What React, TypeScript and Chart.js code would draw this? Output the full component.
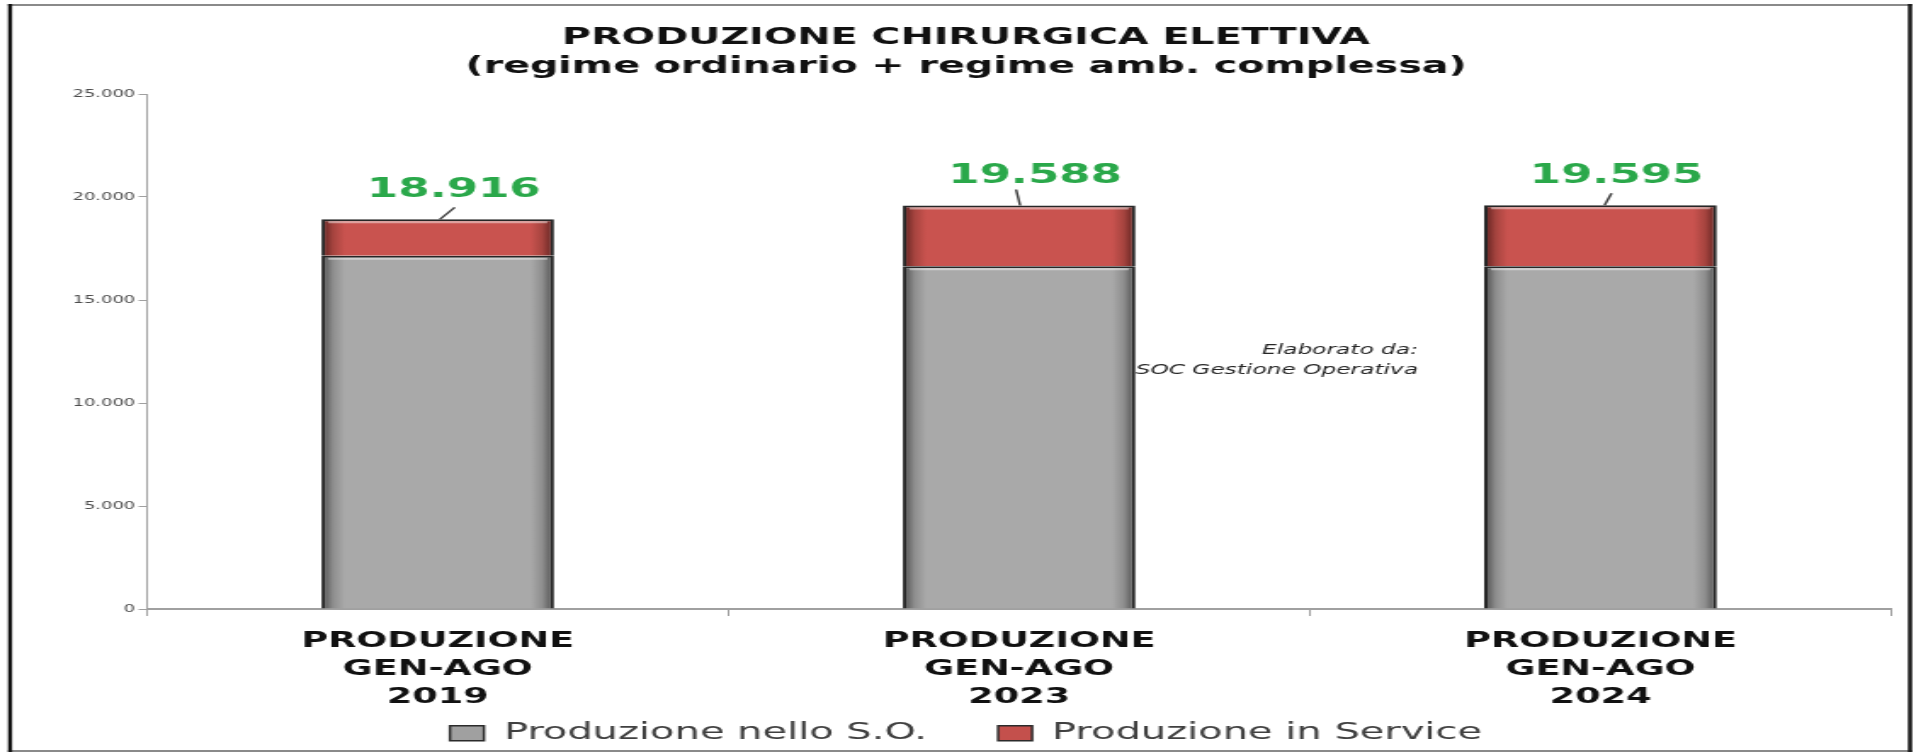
import React, { useEffect, useRef } from 'react';
import { Chart, registerables } from 'chart.js';

Chart.register(...registerables);

// ---------- data ----------
const CATEGORIES: string[][] = [
  ['PRODUZIONE', 'GEN-AGO', '2019'],
  ['PRODUZIONE', 'GEN-AGO', '2023'],
  ['PRODUZIONE', 'GEN-AGO', '2024'],
];
const SERIES_NAMES = ['Produzione nello S.O.', 'Produzione in Service'];
const PRODUZIONE_SO = [17150, 16640, 16640];
const PRODUZIONE_SERVICE = [1766, 2948, 2955];
const Y_MIN = 0;
const Y_MAX = 25000;
const Y_STEP = 5000;
const TITLE_LINES = ['PRODUZIONE CHIRURGICA ELETTIVA', '(regime ordinario + regime amb. complessa)'];
const NOTE_LINES = ['Elaborato da:', 'SOC Gestione Operativa'];

// ---------- presentation ----------
const FONT = '"DejaVu Sans", Verdana, sans-serif';
const DISPLAY_W = 1916;
const DISPLAY_H = 755;
const CANVAS_W = 1127; // drawn narrower, shown stretched horizontally like the reference
const BAR_PCT = 0.4;
const LEGEND_FILL = ['#a0a0a0', '#c4504c'];

const fmt = (v: number) => String(Math.round(v)).replace(/\B(?=(\d{3})+(?!\d))/g, '.');

function barFill(stops: [number, string][], solid: string) {
  return (c: any) => {
    if (c.type !== 'data') return solid;
    const chart = c.chart;
    const xs = chart.scales && chart.scales.x;
    if (!xs || !chart.chartArea || !isFinite(xs.width) || xs.width <= 0) return solid;
    const cx = xs.getPixelForValue(c.dataIndex);
    const w = (xs.width / CATEGORIES.length) * BAR_PCT;
    const g = chart.ctx.createLinearGradient(cx - w / 2, 0, cx + w / 2, 0);
    stops.forEach(([o, col]) => g.addColorStop(o, col));
    return g;
  };
}

const GRAY_STOPS: [number, string][] = [
  [0, '#4a4a4a'], [0.05, '#8e8e8e'], [0.1, '#a9a9a9'], [0.9, '#a9a9a9'], [0.95, '#8e8e8e'], [1, '#4a4a4a'],
];
const RED_STOPS: [number, string][] = [
  [0, '#5a201e'], [0.05, '#a6443f'], [0.1, '#c9534f'], [0.9, '#c9534f'], [0.95, '#a6443f'], [1, '#5a201e'],
];

const decorPlugin = {
  id: 'decor',
  beforeDraw(chart: any) {
    const { ctx, width } = chart;
    ctx.save();
    ctx.fillStyle = '#ffffff';
    ctx.fillRect(0, 0, width, chart.height);
    ctx.strokeStyle = '#8a8a8a';
    ctx.lineWidth = 2;
    ctx.beginPath();
    ctx.moveTo(4.7, 5);
    ctx.lineTo(1124.7, 5);
    ctx.moveTo(4.7, 751);
    ctx.lineTo(1124.7, 751);
    ctx.stroke();
    ctx.fillStyle = '#111111';
    ctx.fillRect(4.7, 4, 2.4, 748);
    ctx.fillRect(1122.3, 4, 2.4, 748);
    ctx.restore();
  },
  afterDatasetsDraw(chart: any) {
    const { ctx } = chart;
    ctx.save();
    // soft highlight under the top edge of each segment
    chart.data.datasets.forEach((_d: any, di: number) => {
      chart.getDatasetMeta(di).data.forEach((el: any) => {
        const p = el.getProps(['x', 'y', 'width'], true);
        ctx.strokeStyle = 'rgba(255,255,255,0.45)';
        ctx.lineWidth = 2;
        ctx.beginPath();
        ctx.moveTo(p.x - p.width / 2 + 4, p.y + 3);
        ctx.lineTo(p.x + p.width / 2 - 4, p.y + 3);
        ctx.stroke();
      });
    });

    // totals with leader lines
    const LEADER = [[1.2, 10, 12], [0.6, -1.8, 16], [2.4, 6.5, 12]];
    const topMeta = chart.getDatasetMeta(chart.data.datasets.length - 1);
    topMeta.data.forEach((el: any, i: number) => {
      const total = chart.data.datasets.reduce((s: number, d: any) => s + Number(d.data[i]), 0);
      const p = el.getProps(['x', 'y'], true);
      const l = LEADER[i] || [0, 0, 12];
      ctx.strokeStyle = '#404040';
      ctx.lineWidth = 1.5;
      ctx.beginPath();
      ctx.moveTo(p.x + l[0], p.y);
      ctx.lineTo(p.x + l[1], p.y - l[2]);
      ctx.stroke();
      ctx.font = `bold 26.5px ${FONT}`;
      ctx.fillStyle = '#2aa84a';
      ctx.textAlign = 'center';
      ctx.textBaseline = 'middle';
      ctx.fillText(fmt(total), p.x + 9.4, p.y - 29);
    });

    // note
    const xs = chart.scales.x;
    const ys = chart.scales.y;
    const nx = xs.getPixelForValue(1.686);
    const ny = ys.getPixelForValue(12550);
    ctx.font = `italic 13.7px ${FONT}`;
    ctx.fillStyle = '#262626';
    ctx.textAlign = 'right';
    ctx.textBaseline = 'middle';
    NOTE_LINES.forEach((t, k) => ctx.fillText(t, nx, ny + k * 20));
    ctx.restore();
  },
};

export default function App() {
  const ref = useRef<HTMLCanvasElement>(null);
  useEffect(() => {
    document.body.style.margin = '0';
    document.body.style.overflow = 'hidden';
    const canvas = ref.current;
    if (!canvas) return;
    const chart = new Chart(canvas, {
      type: 'bar',
      data: {
        labels: CATEGORIES,
        datasets: [
          {
            label: SERIES_NAMES[0],
            data: PRODUZIONE_SO,
            backgroundColor: barFill(GRAY_STOPS, '#a9a9a9') as any,
            borderColor: '#262626',
            borderWidth: { top: 2, left: 2, right: 2, bottom: 0 } as any,
            borderSkipped: false as any,
            barPercentage: BAR_PCT,
            categoryPercentage: 1,
          },
          {
            label: SERIES_NAMES[1],
            data: PRODUZIONE_SERVICE,
            backgroundColor: barFill(RED_STOPS, '#c9534f') as any,
            borderColor: '#262626',
            borderWidth: { top: 2, left: 2, right: 2, bottom: 0 } as any,
            borderSkipped: false as any,
            barPercentage: BAR_PCT,
            categoryPercentage: 1,
          },
        ],
      },
      options: {
        responsive: false,
        maintainAspectRatio: false,
        animation: false,
        devicePixelRatio: 1,
        layout: { padding: { left: 24, right: 14.6, top: 0, bottom: 0 } },
        plugins: {
          title: {
            display: true,
            text: TITLE_LINES,
            color: '#111111',
            font: { family: FONT, size: 23.3, weight: 'bold', lineHeight: 29 / 23.3 },
            padding: { top: 23.5, bottom: 12.5 },
          },
          legend: {
            position: 'bottom',
            labels: {
              color: '#404040',
              font: { family: FONT, size: 23.5 },
              boxWidth: 20,
              boxHeight: 15,
              padding: 12,
              generateLabels: (chart: any) =>
                chart.data.datasets.map((ds: any, i: number) => ({
                  text: i === 0 ? `${ds.label}\u00A0\u00A0\u00A0\u00A0` : ds.label,
                  fillStyle: LEGEND_FILL[i],
                  strokeStyle: '#2b2b2b',
                  lineWidth: 1.5,
                  fontColor: '#404040',
                  hidden: !chart.isDatasetVisible(i),
                  datasetIndex: i,
                })),
            },
          },
          tooltip: { enabled: false },
        },
        scales: {
          x: {
            stacked: true,
            grid: { display: true, drawOnChartArea: false, drawTicks: true, tickLength: 7, color: '#a0a0a0', lineWidth: 1 },
            border: { display: true, color: '#a0a0a0', width: 2 },
            ticks: {
              color: '#111111',
              font: { family: FONT, size: 21.5, weight: 'bold', lineHeight: 28 / 21.5 },
              padding: 11,
              maxRotation: 0,
              autoSkip: false,
            },
            afterFit: (s: any) => { s.height = 100.5; },
          } as any,
          y: {
            stacked: true,
            min: Y_MIN,
            max: Y_MAX,
            ticks: {
              stepSize: Y_STEP,
              color: '#4d4d4d',
              font: { family: FONT, size: 10.5 },
              padding: 2,
              callback: (v: any) => fmt(Number(v)),
            },
            grid: { drawOnChartArea: false, drawTicks: true, tickLength: 5, color: '#a0a0a0' },
            border: { display: true, color: '#a0a0a0', width: 1 },
            afterFit: (s: any) => { s.width = 62.5; },
          } as any,
        },
      },
      plugins: [decorPlugin],
    } as any);
    return () => chart.destroy();
  }, []);

  return (
    <div style={{ width: DISPLAY_W, height: DISPLAY_H, overflow: 'hidden' }}>
      <canvas
        ref={ref}
        width={CANVAS_W}
        height={DISPLAY_H}
        style={{ width: `${DISPLAY_W}px`, height: `${DISPLAY_H}px`, display: 'block' }}
      />
    </div>
  );
}
